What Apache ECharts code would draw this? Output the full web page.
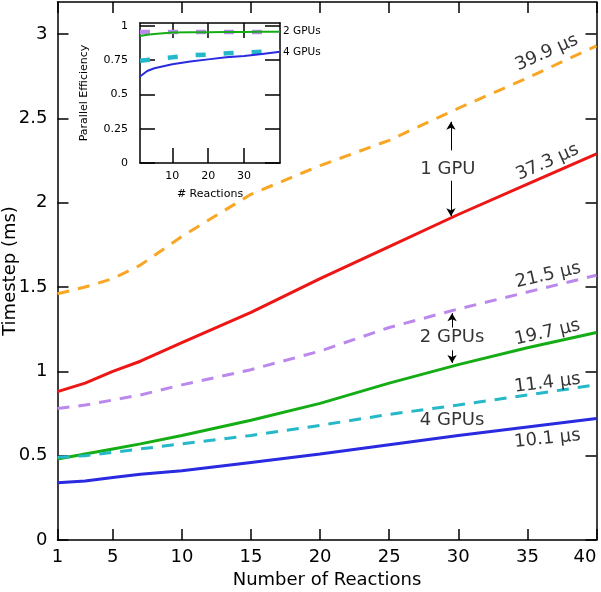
<!DOCTYPE html>
<html><head><meta charset="utf-8">
<script src="https://cdn.jsdelivr.net/npm/echarts@6/dist/echarts.min.js"></script>
<style>html,body{margin:0;padding:0;background:#fff}#c{width:601px;height:592px}</style>
</head><body><div id="c"></div>
<script>
// ---------- data ----------
const reactions = [1, 3, 5, 7, 10, 15, 20, 25, 30, 35, 40];
const gpu1Model = [1.46, 1.50, 1.55, 1.63, 1.80, 2.05, 2.22, 2.37, 2.56, 2.74, 2.93];
const gpu1Meas  = [0.88, 0.93, 1.00, 1.06, 1.17, 1.35, 1.55, 1.74, 1.93, 2.11, 2.29];
const gpu2Model = [0.78, 0.80, 0.83, 0.86, 0.92, 1.01, 1.12, 1.26, 1.37, 1.47, 1.57];
const gpu2Meas  = [0.48, 0.51, 0.54, 0.57, 0.62, 0.71, 0.81, 0.93, 1.04, 1.14, 1.23];
const gpu4Model = [0.49, 0.50, 0.52, 0.54, 0.57, 0.62, 0.68, 0.745, 0.80, 0.86, 0.92];
const gpu4Meas  = [0.34, 0.35, 0.37, 0.39, 0.41, 0.46, 0.51, 0.565, 0.62, 0.67, 0.72];

const xTicks = [1, 5, 10, 15, 20, 25, 30, 35, 40];
const yTicks = [0, 0.5, 1, 1.5, 2, 2.5, 3];

const insetReactions = [1, 3, 5, 10, 15, 20, 25, 30, 35, 40];
const eff2Model = [0.955, 0.955, 0.955, 0.955, 0.955, 0.955, 0.955, 0.955, 0.955, 0.955];
const eff2Meas  = [0.925, 0.935, 0.94, 0.95, 0.952, 0.953, 0.954, 0.955, 0.956, 0.957];
const eff4Model = [0.745, 0.75, 0.76, 0.77, 0.785, 0.79, 0.80, 0.805, 0.81, 0.815];
const eff4Meas  = [0.63, 0.67, 0.69, 0.72, 0.74, 0.755, 0.77, 0.78, 0.795, 0.81];
const insetXTicks = [10, 20, 30];
const insetYTicks = [0, 0.25, 0.5, 0.75, 1];

const timingLabels = ['39.9 μs', '37.3 μs', '21.5 μs', '19.7 μs', '11.4 μs', '10.1 μs'];
const groupLabels = ['1 GPU', '2 GPUs', '4 GPUs'];

// ---------- chart ----------
const FONT = 'DejaVu Sans';
const pair = (xs, ys) => xs.map((x, i) => [x, ys[i]]);
const COL = {orange:'#f8a623', red:'#ee1515', purple:'#bb88ee', green:'#15ad15', cyan:'#25b8c8', blue:'#2a2ae0'};

function xAx(grid, pos, ticks, labels, extra) {
  return Object.assign({
    type:'value', gridIndex:grid, position:pos, min:1, max:40,
    axisLine:{show:true, onZero:false, lineStyle:{color:'#000', width:1.5}},
    axisTick:{show:true, inside:true, length: grid===0?11:15, customValues:ticks, lineStyle:{color:'#000', width:1.5}},
    axisLabel:{show:labels, customValues:ticks, color:'#000', fontFamily:FONT, fontSize: grid===0?18:11, margin: 8,
               alignMaxLabel: grid===0 ? 'right' : null},
    splitLine:{show:false}
  }, extra||{});
}
function yAx(grid, pos, max, ticks, labels, extra) {
  return Object.assign({
    type:'value', gridIndex:grid, position:pos, min:0, max:max,
    axisLine:{show:true, onZero:false, lineStyle:{color:'#000', width:1.5}},
    axisTick:{show:true, inside:true, length: grid===0?11:15, customValues:ticks, lineStyle:{color:'#000', width:1.5}},
    axisLabel:{show:labels, customValues:ticks, color:'#000', fontFamily:FONT, fontSize: grid===0?18:11, margin: grid===0?10:12},
    splitLine:{show:false}
  }, extra||{});
}

function line(xi, yi, xs, ys, color, dashed, width, extra) {
  return Object.assign({
    type:'line', xAxisIndex:xi, yAxisIndex:yi, data:pair(xs, ys), showSymbol:false, symbol:'none',
    lineStyle:{color:color, width:width, type: dashed ? dashed : 'solid', cap:'butt'},
    itemStyle:{color:color}, smooth:false, animation:false, z:3
  }, extra||{});
}

// annotation anchors in data coordinates
const annotAt = [
  {t:timingLabels[0], x:36.4, y:2.89, r:24},
  {t:timingLabels[1], x:36.45, y:2.24, r:24},
  {t:timingLabels[2], x:36.5, y:1.57, r:13},
  {t:timingLabels[3], x:36.45, y:1.23, r:13},
  {t:timingLabels[4], x:36.45, y:0.93, r:7},
  {t:timingLabels[5], x:36.45, y:0.60, r:6},
  {t:groupLabels[0],  x:29.25, y:2.20, r:0},
  {t:groupLabels[1],  x:29.55, y:1.20, r:0},
  {t:groupLabels[2],  x:29.55, y:0.71, r:0}
];
const arrows = [
  [[29.47, 2.31], [29.47, 2.48]],
  [[29.47, 2.13], [29.47, 1.92]],
  [[29.55, 1.26], [29.55, 1.345]],
  [[29.55, 1.125], [29.55, 1.05]]
];

const chart = echarts.init(document.getElementById('c'), null, {renderer:'canvas'});
chart.setOption({
  animation:false,
  backgroundColor:'#fff',
  textStyle:{fontFamily:FONT},
  grid:[
    {left:57.5, right:4.5, top:2, bottom:52, outerBoundsMode:'none', containLabel:false},
    {left:140, top:23, width:140, height:140, show:true, backgroundColor:'#fff', borderWidth:0, outerBoundsMode:'none', containLabel:false}
  ],
  xAxis:[
    xAx(0,'bottom',xTicks,true,{name:'Number of Reactions', nameLocation:'middle', nameGap:28, nameTextStyle:{fontSize:18, color:'#000', fontFamily:FONT}}),
    xAx(0,'top',xTicks,false),
    xAx(1,'bottom',insetXTicks,true,{name:'# Reactions', nameLocation:'middle', nameGap:26, nameTextStyle:{fontSize:11, color:'#000', fontFamily:FONT}}),
    xAx(1,'top',insetXTicks,false)
  ],
  yAxis:[
    yAx(0,'left',3.19,yTicks,true,{name:'Timestep (ms)', nameLocation:'middle', nameGap:38, nameRotate:90, nameMoveOverlap:false, nameTextStyle:{fontSize:18, color:'#000', fontFamily:FONT}}),
    yAx(0,'right',3.19,yTicks,false),
    yAx(1,'left',1.02,insetYTicks,true,{name:'Parallel Efficiency', nameLocation:'middle', nameGap:50, nameRotate:90, nameTextStyle:{fontSize:11, color:'#000', fontFamily:FONT}}),
    yAx(1,'right',1.02,insetYTicks,false)
  ],
  series:[
    line(0,0,reactions,gpu1Model,COL.orange,[12,9],3),
    line(0,0,reactions,gpu1Meas,COL.red,null,3),
    line(0,0,reactions,gpu2Model,COL.purple,[12,9],3),
    line(0,0,reactions,gpu2Meas,COL.green,null,3),
    line(0,0,reactions,gpu4Model,COL.cyan,[12,9],3),
    line(0,0,reactions,gpu4Meas,COL.blue,null,3),
    line(2,2,insetReactions,eff2Model,COL.purple,[10,18],4.5),
    line(2,2,insetReactions,eff2Meas,COL.green,null,2,{endLabel:{show:true, formatter:'2 GPUs', fontSize:10.5, color:'#000', fontFamily:FONT, distance:3}}),
    line(2,2,insetReactions,eff4Model,COL.cyan,[10,18],4.5),
    line(2,2,insetReactions,eff4Meas,COL.blue,null,2,{endLabel:{show:true, formatter:'4 GPUs', fontSize:10.5, color:'#000', fontFamily:FONT, distance:3}}),
    {
      type:'scatter', xAxisIndex:0, yAxisIndex:0, symbolSize:1, itemStyle:{color:'rgba(0,0,0,0)'},
      z:5, animation:false, silent:true,
      data: annotAt.map(a => ({value:[a.x, a.y], name:a.t, label:{rotate:a.r}})),
      label:{show:true, position:'inside', formatter:p => p.name, color:'#000', fontFamily:FONT, fontSize:18},
      markLine:{
        silent:true, symbol:['none','arrow'], symbolSize:[7,8], animation:false,
        label:{show:false}, lineStyle:{color:'#000', width:1, type:'solid'},
        emphasis:{disabled:true},
        data: arrows.map(a => [{coord:a[0]}, {coord:a[1]}])
      }
    }
  ]
});
</script></body></html>
